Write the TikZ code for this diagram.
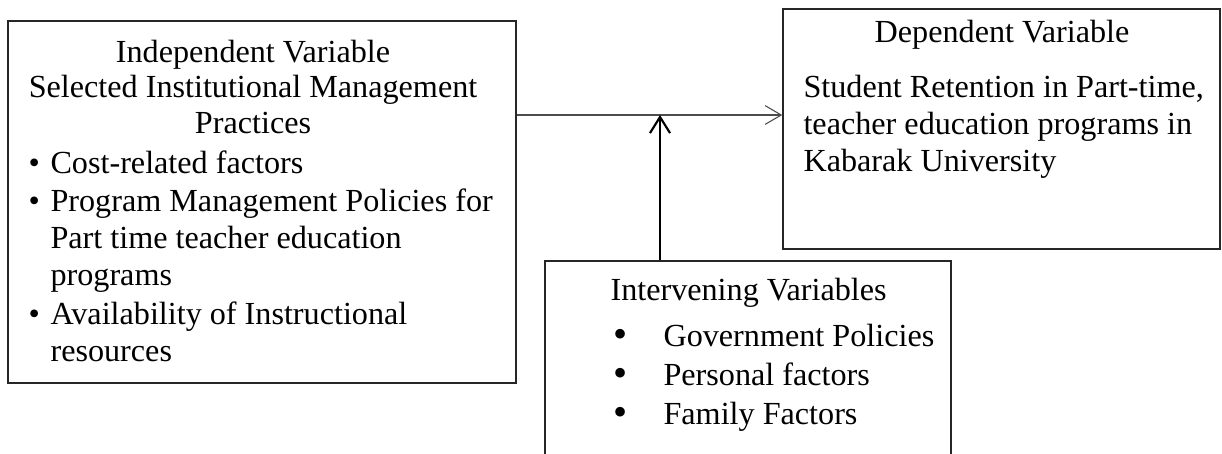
\documentclass[tikz,border=0pt]{standalone}
\usepackage{fontspec}
\setmainfont{Liberation Serif}
\usepackage{tikz}
\usetikzlibrary{positioning}
\usetikzlibrary{arrows.meta,shapes}
\tikzstyle{varbox}=[rectangle,draw=black!85,line width=0.55pt,inner sep=0pt]
\tikzstyle{txt}=[font=\fontsize{12}{14}\selectfont,inner sep=0pt,anchor=base west]
\tikzstyle{ctxt}=[font=\fontsize{12}{14}\selectfont,inner sep=0pt,anchor=base]
\tikzstyle{bigdot}=[font=\fontsize{15}{14}\selectfont,inner sep=0pt,anchor=base west]
\tikzstyle{thinedge} = [draw,line width=0.4pt,black!70,-{Straight Barb[length=6pt,width=7pt]}]
\tikzstyle{edge} = [draw,line width=0.8pt,-{Straight Barb[length=6pt,width=7.5pt]}]

\begin{document}
\begin{tikzpicture}[x=0.373pt,y=-0.373pt]
 \def\u{0.373pt};
 \useasboundingbox (0,0) rectangle (1222,453);

 %Independent
 \node[varbox, minimum width=508*\u, minimum height=362*\u] (indep) at (262,202) {};

   \foreach \x/\y/\name/\label in {253/62/i1/Independent Variable, 253/97/i2/Selected Institutional Management, 253/133/i3/Practices}
          \node[ctxt] (\name) at (\x,\y) {\label};

   \foreach \x/\y/\name/\label in {50/173/i4/Cost-related factors, 50/211/i5/Program Management Policies for, 50/248/i6/Part time teacher education, 50/285/i7/programs, 50/324/i8/Availability of Instructional, 50/361/i9/resources}
          \node[txt] (\name) at (\x,\y) {\label};

   \foreach \x/\y/\name in {28/173/b1, 28/211/b2, 28/324/b3}
          \node[txt] (\name) at (\x,\y) {\textbullet};

 %Dependent
 \node[varbox, minimum width=437*\u, minimum height=240*\u] (dep) at (1001.5,129) {};

   \foreach \x/\y/\name/\label in {1002/42/d1/Dependent Variable}
          \node[ctxt] (\name) at (\x,\y) {\label};

   \foreach \x/\y/\name/\label in {803/97/d2/{Student Retention in Part-time,}, 803/134/d3/teacher education programs in, 803/171/d4/Kabarak University}
          \node[txt] (\name) at (\x,\y) {\label};

 %Intervening
 \node[varbox, minimum width=406*\u, minimum height=220*\u] (interv) at (748,371) {};

   \foreach \x/\y/\name/\label in {610/300/v1/Intervening Variables, 663/346/v2/Government Policies, 663/385/v3/Personal factors, 663/424/v4/Family Factors}
          \node[txt] (\name) at (\x,\y) {\label};

   \foreach \x/\y/\name in {613/347/c1, 613/386/c2, 613/425/c3}
          \node[bigdot] (\name) at (\x,\y) {\textbullet};

 %arrows
 \coordinate (hy) at (0,115);
 \coordinate (join) at (660,115);
 \path[thinedge] (indep.east |- hy) -- (dep.west |- hy);
 \path[edge] (interv.north -| join) -- (join);

\end{tikzpicture}
\end{document}
